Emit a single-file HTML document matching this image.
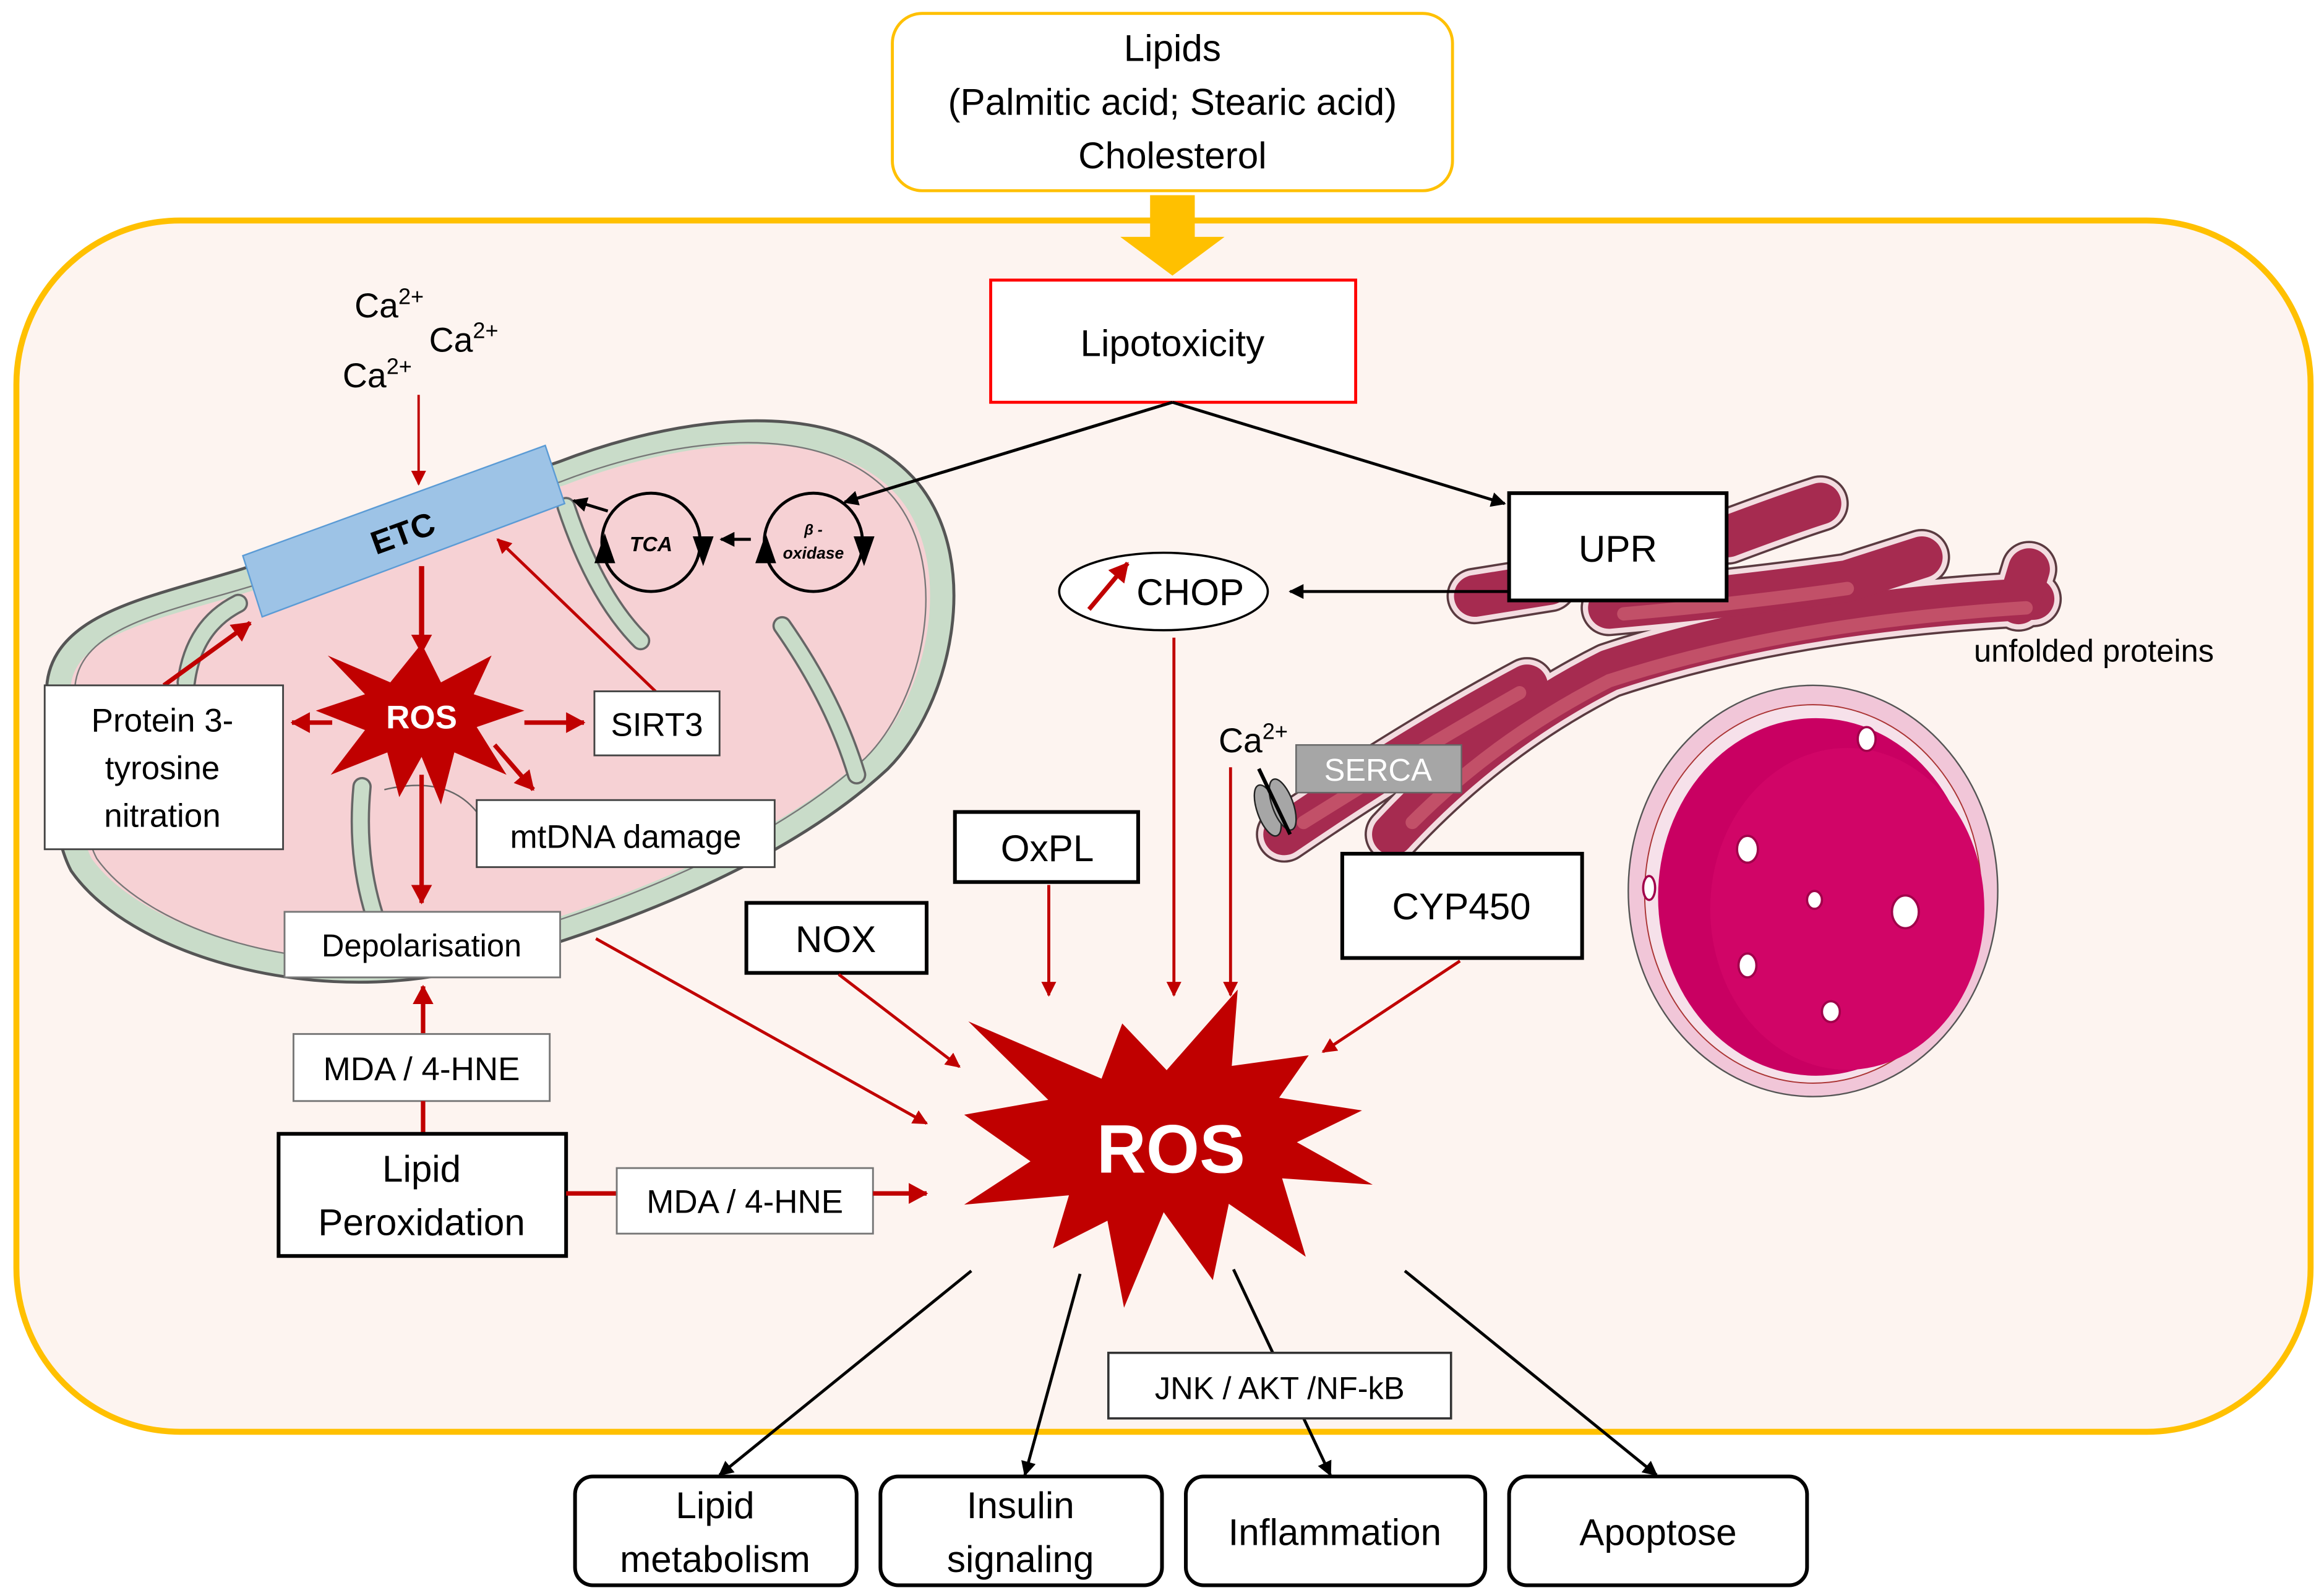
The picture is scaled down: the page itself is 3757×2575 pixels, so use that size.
<!DOCTYPE html>
<html><head><meta charset="utf-8"><style>
html,body{margin:0;padding:0;background:#fff;}
svg{display:block;}
text{font-family:"Liberation Sans",sans-serif;}
</style></head><body>
<svg width="3757" height="2575" viewBox="0 0 1560 1069.2" preserveAspectRatio="none" xmlns="http://www.w3.org/2000/svg">
<defs>
<marker id="ab" markerWidth="10" markerHeight="10" refX="9" refY="5" orient="auto" markerUnits="userSpaceOnUse"><path d="M0,0 L10,5 L0,10 z" fill="#000"/></marker>
<marker id="ar" markerWidth="10" markerHeight="10" refX="9" refY="5" orient="auto" markerUnits="userSpaceOnUse"><path d="M0,0 L10,5 L0,10 z" fill="#C00000"/></marker>
<marker id="arb" markerWidth="14" markerHeight="14" refX="12" refY="7" orient="auto" markerUnits="userSpaceOnUse"><path d="M0,0 L13,7 L0,14 z" fill="#C00000"/></marker>
</defs>
<rect width="1560" height="1070" fill="#fff"/>
<!-- cell -->
<rect x="11" y="148" width="1540" height="813" rx="110" fill="#FDF4F0" stroke="#FFC000" stroke-width="4"/>
<!-- Lipids box -->
<rect x="599" y="9" width="376" height="119" rx="20" fill="#fff" stroke="#FFC000" stroke-width="2"/>
<text x="787" y="41" font-size="25" text-anchor="middle">Lipids</text>
<text x="787" y="77" font-size="25" text-anchor="middle">(Palmitic acid; Stearic acid)</text>
<text x="787" y="113" font-size="25" text-anchor="middle">Cholesterol</text>
<!-- yellow arrow -->
<path d="M772,131 L802,131 L802,159 L822,159 L787,185 L752,159 L772,159 z" fill="#FFC000"/>
<!-- Lipotoxicity -->
<rect x="665" y="188" width="245" height="82" fill="#fff" stroke="#FF0000" stroke-width="2"/>
<text x="787" y="239" font-size="25" text-anchor="middle">Lipotoxicity</text>

<!-- Mitochondrion -->
<g>
<path d="M40,470 C35,420 100,410 165,390 L378,318 C450,290 560,270 610,330 C650,380 630,470 590,510 C520,575 400,620 300,645 C200,665 90,630 55,580 C42,555 40,500 40,470 Z" fill="#F6D1D4" stroke="#555" stroke-width="19"/>
<path d="M40,470 C35,420 100,410 165,390 L378,318 C450,290 560,270 610,330 C650,380 630,470 590,510 C520,575 400,620 300,645 C200,665 90,630 55,580 C42,555 40,500 40,470 Z" fill="#F6D1D4" stroke="#C9DCC9" stroke-width="15"/>
<path d="M40,470 C35,420 100,410 165,390 L378,318 C450,290 560,270 610,330 C650,380 630,470 590,510 C520,575 400,620 300,645 C200,665 90,630 55,580 C42,555 40,500 40,470 Z" fill="none" stroke="#777" stroke-width="1" transform="translate(337,468) scale(0.965) translate(-337,-468)"/>
<g fill="none" stroke-linecap="round">
<path d="M125,458 Q130,420 160,405" stroke="#666" stroke-width="13"/>
<path d="M125,458 Q130,420 160,405" stroke="#C9DCC9" stroke-width="10"/>
<path d="M243,528 Q238,580 255,625" stroke="#666" stroke-width="13"/>
<path d="M243,528 Q238,580 255,625" stroke="#C9DCC9" stroke-width="10"/>
<path d="M380,340 Q400,400 430,430" stroke="#666" stroke-width="13"/>
<path d="M380,340 Q400,400 430,430" stroke="#C9DCC9" stroke-width="10"/>
<path d="M525,420 Q560,470 575,520" stroke="#666" stroke-width="13"/>
<path d="M525,420 Q560,470 575,520" stroke="#C9DCC9" stroke-width="10"/>
</g>
<path d="M258,530 Q300,520 320,545" fill="none" stroke="#666" stroke-width="1"/>
</g>
<line x1="787" y1="270" x2="567" y2="337" stroke="#000" stroke-width="2" marker-end="url(#ab)"/>
<line x1="787" y1="270" x2="1010" y2="338" stroke="#000" stroke-width="2" marker-end="url(#ab)"/>
<!-- ETC -->
<polygon points="163,373 366,299 379,338 176,414" fill="#9DC3E6" stroke="#5B9BD5" stroke-width="1"/>
<text x="0" y="0" font-size="22" font-weight="bold" text-anchor="middle" transform="translate(273,365) rotate(-20)">ETC</text>
<!-- Ca2+ -->
<text x="238" y="213" font-size="23">Ca<tspan font-size="15" dy="-9">2+</tspan></text>
<text x="288" y="236" font-size="23">Ca<tspan font-size="15" dy="-9">2+</tspan></text>
<text x="230" y="260" font-size="23">Ca<tspan font-size="15" dy="-9">2+</tspan></text>
<line x1="281" y1="265" x2="281" y2="325" stroke="#C00000" stroke-width="1.6" marker-end="url(#ar)"/>
<!-- TCA / beta-oxidase -->
<circle cx="437" cy="364" r="33" fill="#F6D1D4" stroke="#000" stroke-width="2"/>
<text x="437" y="370" font-size="14" font-style="italic" font-weight="bold" text-anchor="middle">TCA</text>
<path d="M399,378 L406,358 L413,378 z" fill="#000"/>
<path d="M465,360 L479,360 L472,380 z" fill="#000"/>
<circle cx="546" cy="364" r="33" fill="#F6D1D4" stroke="#000" stroke-width="2"/>
<text x="546" y="359" font-size="10" font-style="italic" font-weight="bold" text-anchor="middle">β -</text>
<text x="546" y="375" font-size="11" font-style="italic" font-weight="bold" text-anchor="middle">oxidase</text>
<path d="M507,378 L514,358 L521,378 z" fill="#000"/>
<path d="M573,360 L587,360 L580,380 z" fill="#000"/>
<line x1="504" y1="362" x2="484" y2="362" stroke="#000" stroke-width="2" marker-end="url(#ab)"/>
<line x1="408" y1="343" x2="385" y2="336" stroke="#000" stroke-width="2" marker-end="url(#ab)"/>
<line x1="787" y1="270" x2="567" y2="337" stroke="#000" stroke-width="2" marker-end="url(#ab)"/>
<!-- small ROS -->
<polygon points="283,432 296,458 330,440 318,466 352,477 320,488 340,520 305,505 296,540 283,508 268,535 260,505 222,520 245,490 212,477 245,466 220,440 262,458" fill="#C00000"/>
<text x="283" y="489" font-size="22" font-weight="bold" fill="#fff" text-anchor="middle">ROS</text>
<line x1="283" y1="380" x2="283" y2="438" stroke="#C00000" stroke-width="3.5" marker-end="url(#arb)"/>
<line x1="283" y1="520" x2="283" y2="606" stroke="#C00000" stroke-width="3" marker-end="url(#arb)"/>
<line x1="223" y1="485" x2="196" y2="485" stroke="#C00000" stroke-width="3" marker-end="url(#arb)"/>
<line x1="352" y1="485" x2="392" y2="485" stroke="#C00000" stroke-width="3" marker-end="url(#arb)"/>
<line x1="332" y1="500" x2="358" y2="530" stroke="#C00000" stroke-width="3" marker-end="url(#arb)"/>
<line x1="110" y1="460" x2="168" y2="418" stroke="#C00000" stroke-width="3" marker-end="url(#arb)"/>
<line x1="440" y1="464" x2="334" y2="362" stroke="#C00000" stroke-width="2" marker-end="url(#ar)"/>
<!-- mito boxes -->
<rect x="30" y="460" width="160" height="110" fill="#fff" stroke="#444" stroke-width="1.2"/>
<text x="109" y="491" font-size="22" text-anchor="middle">Protein 3-</text>
<text x="109" y="523" font-size="22" text-anchor="middle">tyrosine</text>
<text x="109" y="555" font-size="22" text-anchor="middle">nitration</text>
<rect x="399" y="464" width="84" height="43" fill="#fff" stroke="#444" stroke-width="1.2"/>
<text x="441" y="494" font-size="22" text-anchor="middle">SIRT3</text>
<rect x="320" y="537" width="200" height="45" fill="#fff" stroke="#444" stroke-width="1.2"/>
<text x="420" y="569" font-size="22" text-anchor="middle">mtDNA damage</text>
<rect x="191" y="612" width="185" height="44" fill="#fff" stroke="#777" stroke-width="1.2"/>
<text x="283" y="642" font-size="21" text-anchor="middle">Depolarisation</text>
<line x1="284" y1="694" x2="284" y2="662" stroke="#C00000" stroke-width="3" marker-end="url(#arb)"/>
<rect x="197" y="694" width="172" height="45" fill="#fff" stroke="#777" stroke-width="1.2"/>
<text x="283" y="725" font-size="22" text-anchor="middle">MDA / 4-HNE</text>
<line x1="284" y1="739" x2="284" y2="761" stroke="#C00000" stroke-width="3"/>
<rect x="187" y="761" width="193" height="82" fill="#fff" stroke="#000" stroke-width="2.5"/>
<text x="283" y="793" font-size="25" text-anchor="middle">Lipid</text>
<text x="283" y="829" font-size="25" text-anchor="middle">Peroxidation</text>
<line x1="380" y1="801" x2="414" y2="801" stroke="#C00000" stroke-width="3"/>
<rect x="414" y="784" width="172" height="44" fill="#fff" stroke="#777" stroke-width="1.2"/>
<text x="500" y="814" font-size="22" text-anchor="middle">MDA / 4-HNE</text>
<line x1="586" y1="801" x2="622" y2="801" stroke="#C00000" stroke-width="3" marker-end="url(#arb)"/>
<line x1="400" y1="630" x2="622" y2="754" stroke="#C00000" stroke-width="2" marker-end="url(#ar)"/>

<!-- ER -->
<g fill="none" stroke-linecap="round" stroke-linejoin="round">
<g stroke="#5a3a40" stroke-width="38">
<path d="M862,560 Q950,500 1025,460"/>
<path d="M935,560 Q1000,490 1080,450 Q1200,410 1365,402"/>
<path d="M990,400 L1040,392"/>
<path d="M1160,360 Q1200,345 1222,338"/>
<path d="M1080,408 Q1170,400 1240,390 L1290,374"/>
<path d="M1355,405 L1362,382"/>
</g>
<g stroke="#F3DCE0" stroke-width="35">
<path d="M862,560 Q950,500 1025,460"/>
<path d="M935,560 Q1000,490 1080,450 Q1200,410 1365,402"/>
<path d="M990,400 L1040,392"/>
<path d="M1160,360 Q1200,345 1222,338"/>
<path d="M1080,408 Q1170,400 1240,390 L1290,374"/>
<path d="M1355,405 L1362,382"/>
</g>
<g stroke="#A62B50" stroke-width="28">
<path d="M862,560 Q950,500 1025,460"/>
<path d="M935,560 Q1000,490 1080,450 Q1200,410 1365,402"/>
<path d="M990,400 L1040,392"/>
<path d="M1160,360 Q1200,345 1222,338"/>
<path d="M1080,408 Q1170,400 1240,390 L1290,374"/>
<path d="M1355,405 L1362,382"/>
</g>
<g stroke="#C25068" stroke-width="9">
<path d="M875,552 Q950,505 1020,465"/>
<path d="M948,552 Q1005,495 1080,457 Q1200,418 1360,408"/>
<path d="M1090,412 Q1170,405 1240,395"/>
</g>
</g>
<!-- SERCA -->
<rect x="870" y="500" width="111" height="32" fill="#A6A6A6" stroke="#666" stroke-width="1"/>
<text x="925" y="524" font-size="21" fill="#fff" text-anchor="middle">SERCA</text>
<ellipse cx="851" cy="544" rx="7" ry="18" transform="rotate(-20 851 544)" fill="#A6A6A6" stroke="#222" stroke-width="1"/>
<ellipse cx="861" cy="540" rx="7" ry="18" transform="rotate(-20 861 540)" fill="#A6A6A6" stroke="#222" stroke-width="1"/>
<line x1="845" y1="516" x2="866" y2="560" stroke="#000" stroke-width="2.5"/>
<text x="818" y="505" font-size="23">Ca<tspan font-size="15" dy="-9">2+</tspan></text>
<!-- UPR -->
<rect x="1013" y="331" width="146" height="72" fill="#fff" stroke="#000" stroke-width="2.5"/>
<text x="1086" y="377" font-size="25" text-anchor="middle">UPR</text>
<line x1="1013" y1="397" x2="866" y2="397" stroke="#000" stroke-width="2" marker-end="url(#ab)"/>
<!-- CHOP -->
<ellipse cx="781" cy="397" rx="70" ry="26" fill="#fff" stroke="#000" stroke-width="1.5"/>
<line x1="731" y1="409" x2="757" y2="378" stroke="#C00000" stroke-width="3" marker-end="url(#arb)"/>
<text x="799" y="406" font-size="25" text-anchor="middle">CHOP</text>
<text x="1325" y="444" font-size="21">unfolded proteins</text>
<!-- nucleus -->
<ellipse cx="1217" cy="598" rx="124" ry="138" fill="#F1C6D8" stroke="#555" stroke-width="1"/>
<ellipse cx="1217" cy="600" rx="113" ry="127" fill="#F6E1EA" stroke="#A33" stroke-width="0.8"/>
<ellipse cx="1219" cy="602" rx="106" ry="120" fill="#C90062"/>
<ellipse cx="1240" cy="610" rx="92" ry="108" fill="#D10567"/>
<g fill="#fff" stroke="#A0004A" stroke-width="1.5">
<ellipse cx="1173" cy="570" rx="7" ry="9"/><ellipse cx="1218" cy="604" rx="5" ry="6"/>
<ellipse cx="1279" cy="612" rx="9" ry="11"/><ellipse cx="1173" cy="648" rx="6" ry="8"/>
<ellipse cx="1229" cy="679" rx="6" ry="7"/><ellipse cx="1253" cy="496" rx="6" ry="8"/>
<ellipse cx="1107" cy="596" rx="4" ry="8"/>
</g>
<!-- CYP450, OxPL, NOX -->
<rect x="901" y="573" width="161" height="70" fill="#fff" stroke="#000" stroke-width="2.5"/>
<text x="981" y="617" font-size="25" text-anchor="middle">CYP450</text>
<rect x="641" y="545" width="123" height="47" fill="#fff" stroke="#000" stroke-width="2.5"/>
<text x="703" y="578" font-size="25" text-anchor="middle">OxPL</text>
<rect x="501" y="606" width="121" height="47" fill="#fff" stroke="#000" stroke-width="2.5"/>
<text x="561" y="639" font-size="25" text-anchor="middle">NOX</text>
<!-- red inputs -->
<line x1="788" y1="428" x2="788" y2="668" stroke="#C00000" stroke-width="2" marker-end="url(#ar)"/>
<line x1="826" y1="515" x2="826" y2="668" stroke="#C00000" stroke-width="2" marker-end="url(#ar)"/>
<line x1="704" y1="594" x2="704" y2="668" stroke="#C00000" stroke-width="2" marker-end="url(#ar)"/>
<line x1="563" y1="654" x2="644" y2="716" stroke="#C00000" stroke-width="2" marker-end="url(#ar)"/>
<line x1="980" y1="645" x2="888" y2="706" stroke="#C00000" stroke-width="2" marker-end="url(#ar)"/>
<!-- big ROS -->
<g transform="translate(373.8,622.9) scale(0.3974,0.2847)">
<polygon points="695,220 920,355 955,225 1030,335 1150,145 1140,325 1270,300 1220,400 1360,430 1250,505 1378,605 1225,590 1265,775 1135,650 1108,830 1025,670 958,895 930,690 838,755 865,630 688,652 800,550 688,440 830,405" fill="#C00000"/>
</g>
<text x="786" y="787" font-size="46" font-weight="bold" fill="#fff" text-anchor="middle">ROS</text>
<!-- outputs -->
<line x1="652" y1="853" x2="483" y2="990" stroke="#000" stroke-width="2" marker-end="url(#ab)"/>
<line x1="725" y1="855" x2="688" y2="990" stroke="#000" stroke-width="2" marker-end="url(#ab)"/>
<line x1="828" y1="852" x2="893" y2="990" stroke="#000" stroke-width="2" marker-end="url(#ab)"/>
<line x1="943" y1="853" x2="1112" y2="990" stroke="#000" stroke-width="2" marker-end="url(#ab)"/>
<rect x="744" y="908" width="230" height="44" fill="#fff" stroke="#333" stroke-width="1.5"/>
<text x="859" y="939" font-size="21" text-anchor="middle">JNK / AKT /NF-kB</text>
<g fill="#fff" stroke="#000" stroke-width="2.5">
<rect x="386" y="991" width="189" height="73" rx="12"/>
<rect x="591" y="991" width="189" height="73" rx="12"/>
<rect x="796" y="991" width="201" height="73" rx="12"/>
<rect x="1013" y="991" width="200" height="73" rx="12"/>
</g>
<text x="480" y="1019" font-size="25" text-anchor="middle">Lipid</text>
<text x="480" y="1055" font-size="25" text-anchor="middle">metabolism</text>
<text x="685" y="1019" font-size="25" text-anchor="middle">Insulin</text>
<text x="685" y="1055" font-size="25" text-anchor="middle">signaling</text>
<text x="896" y="1037" font-size="25" text-anchor="middle">Inflammation</text>
<text x="1113" y="1037" font-size="25" text-anchor="middle">Apoptose</text>
</svg>
</body></html>
